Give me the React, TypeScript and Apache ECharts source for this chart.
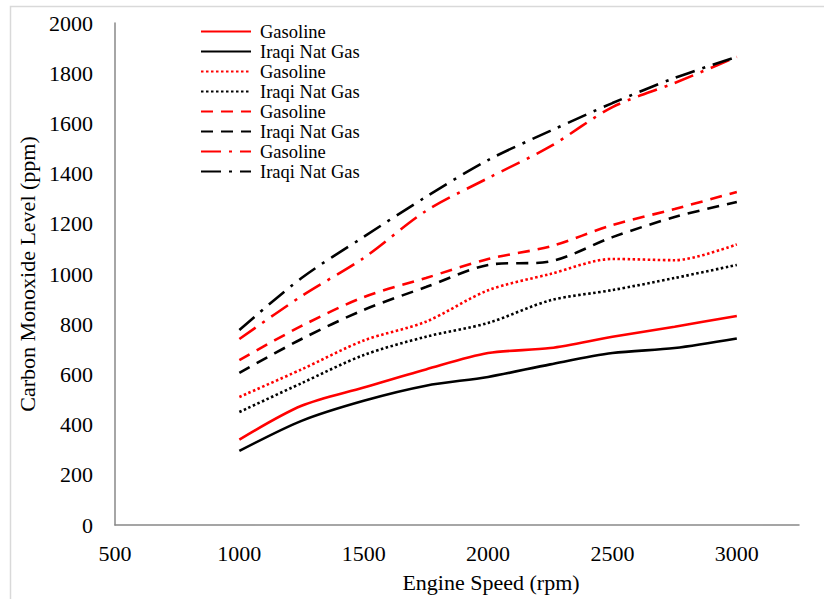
import React, { useEffect, useRef } from "react";
import * as echarts from "echarts";

const rpm = [1000, 1250, 1500, 1750, 2000, 2250, 2500, 2750, 3000];

const gasolineSolid = [340, 475, 548, 620, 685, 705, 750, 790, 833];
const iraqiSolid = [295, 415, 495, 555, 590, 640, 685, 705, 743];
const gasolineDotted = [510, 620, 735, 810, 935, 1000, 1060, 1055, 1118];
const iraqiDotted = [450, 565, 677, 750, 805, 895, 936, 984, 1036];
const gasolineDashed = [657, 793, 908, 984, 1060, 1110, 1195, 1259, 1327];
const iraqiDashed = [606, 741, 857, 948, 1036, 1050, 1147, 1227, 1287];
const gasolineDashDot = [741, 912, 1064, 1251, 1382, 1508, 1665, 1761, 1865];
const iraqiDashDot = [777, 984, 1148, 1307, 1454, 1570, 1681, 1781, 1865];

const legendNames = [
  "Gasoline",
  "Iraqi Nat Gas",
  "Gasoline",
  "Iraqi Nat Gas",
  "Gasoline",
  "Iraqi Nat Gas",
  "Gasoline",
  "Iraqi Nat Gas",
];

const RED = "#ff0000";
const BLACK = "#000000";
const FONT = "'Liberation Serif', 'Times New Roman', serif";

export default function App() {
  const ref = useRef<HTMLDivElement>(null);

  useEffect(() => {
    if (!ref.current) return;
    const chart = echarts.init(ref.current, null, { renderer: "svg" });

    const seriesDefs = [
      { values: gasolineSolid, color: RED, type: "solid" as any },
      { values: iraqiSolid, color: BLACK, type: "solid" as any },
      { values: gasolineDotted, color: RED, type: [2.5, 2.5] },
      { values: iraqiDotted, color: BLACK, type: [2.5, 2.5] },
      { values: gasolineDashed, color: RED, type: [12, 8] },
      { values: iraqiDashed, color: BLACK, type: [12, 8] },
      { values: gasolineDashDot, color: RED, type: [20, 8, 3, 8] },
      { values: iraqiDashDot, color: BLACK, type: [20, 8, 3, 8] },
    ];

    // unique internal names (zero-width suffix) so the legend shows every entry
    const names = legendNames.map((n, i) => n + "\u200B".repeat(i));

    const series = seriesDefs.map((d, i) => ({
      name: names[i],
      type: "line",
      data: rpm.map((x, j) => [x, d.values[j]]),
      smooth: 0.3,
      symbol: "none",
      showSymbol: false,
      color: d.color,
      lineStyle: { color: d.color, width: 2.6, type: d.type, cap: "butt" },
      itemStyle: { color: d.color },
      z: 2,
    }));

    chart.setOption({
      animation: false,
      backgroundColor: "#ffffff",
      grid: { left: 115, right: 25, top: 23, bottom: 74, containLabel: false },
      legend: {
        data: names,
        orient: "vertical",
        left: 200,
        top: 22,
        padding: 0,
        itemWidth: 50,
        itemHeight: 14,
        itemGap: 1,
        itemStyle: { opacity: 0 },
        formatter: (n: string) => n.replace(/\u200B/g, ""),
        textStyle: {
          fontFamily: FONT,
          fontSize: 18.5,
          color: "#000",
          lineHeight: 17,
          padding: [0, 0, 0, 4],
        },
      },
      xAxis: {
        type: "value",
        min: 500,
        max: 3250,
        interval: 500,
        name: "Engine Speed (rpm)",
        nameLocation: "middle",
        nameGap: 46,
        nameTextStyle: {
          fontFamily: FONT,
          fontSize: 22,
          color: "#000",
          padding: [0, 0, 0, 68],
        },
        axisLine: { show: true, lineStyle: { color: "#888888", width: 1.5 } },
        axisTick: { show: false },
        splitLine: { show: false },
        axisLabel: {
          margin: 17,
          fontFamily: FONT,
          fontSize: 22,
          color: "#000",
          formatter: (v: number) => (v % 500 === 0 ? String(v) : ""),
        },
      },
      yAxis: {
        type: "value",
        min: 0,
        max: 2000,
        interval: 200,
        name: "Carbon Monoxide Level (ppm)",
        nameLocation: "middle",
        nameGap: 66,
        nameTextStyle: { fontFamily: FONT, fontSize: 22, color: "#000" },
        axisLine: { show: true, lineStyle: { color: "#888888", width: 1.5 } },
        axisTick: { show: false },
        splitLine: { show: false },
        axisLabel: {
          margin: 22,
          fontFamily: FONT,
          fontSize: 22,
          color: "#000",
          formatter: (v: number) => String(v),
        },
      },
      graphic: [
        {
          type: "rect",
          shape: { x: 10.5, y: 6.5, width: 830, height: 620 },
          style: { fill: "none", stroke: "#d9d9d9", lineWidth: 1.5 },
          silent: true,
          z: -1,
        },
      ],
      series,
    });

    return () => chart.dispose();
  }, []);

  return (
    <div
      ref={ref}
      style={{ position: "fixed", left: 0, top: 0, width: 824, height: 599 }}
    />
  );
}
